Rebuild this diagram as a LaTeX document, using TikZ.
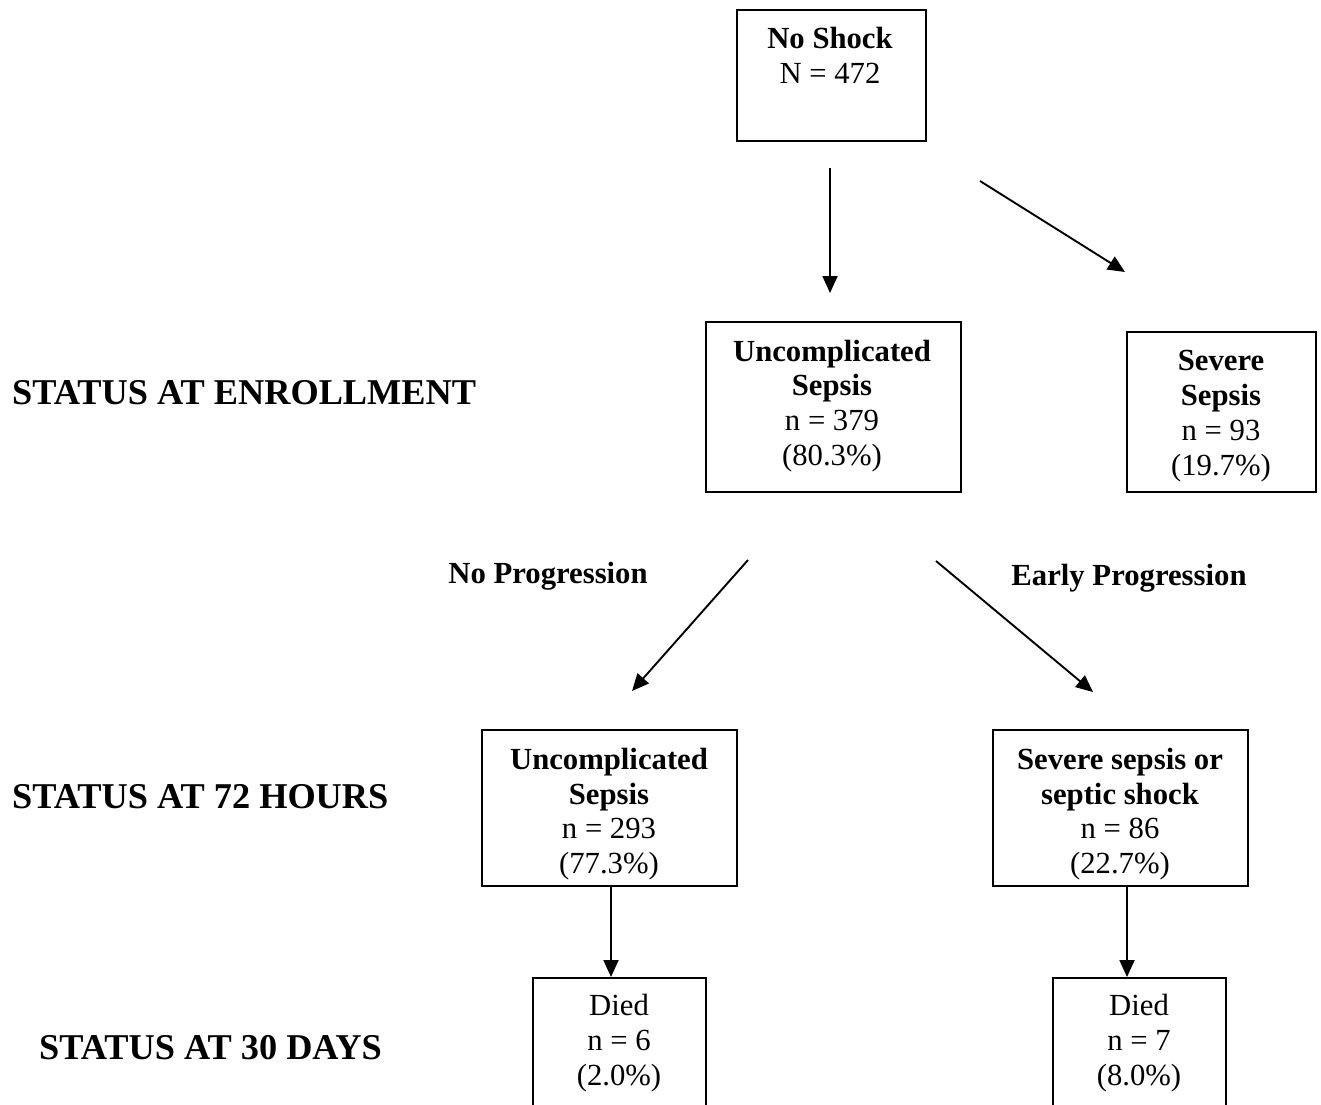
\documentclass[tikz,border=0pt]{standalone}
\usepackage{fontspec}
\setmainfont{Liberation Serif}
\usetikzlibrary{arrows.meta}
\begin{document}
\begin{tikzpicture}[x=1pt,y=-1pt,
  box/.style={draw, line width=1.6pt, inner sep=0pt, anchor=north west},
  txt/.style={align=center, font=\fontsize{30.7}{34.8}\selectfont, inner sep=0pt},
  lbl/.style={inner sep=0pt, font=\fontsize{30.7}{34.8}\selectfont\bfseries},
  hdr/.style={anchor=west, font=\fontsize{36.3}{40}\selectfont\bfseries, inner sep=0pt},
  arr/.style={line width=1.9pt, -{Triangle[length=17pt,width=15pt]}}]
\useasboundingbox (0,0) rectangle (1321,1104);
\fill[white] (0,0) rectangle (1321,1104);

% boxes
\node[box, minimum width=189pt, minimum height=131pt] (b0) at (736,9) {};
\node[box, minimum width=255pt, minimum height=170pt] (b1) at (705,321) {};
\node[box, minimum width=189pt, minimum height=160pt] (b2) at (1126,331) {};
\node[box, minimum width=255pt, minimum height=156pt] (b3) at (481,729) {};
\node[box, minimum width=255pt, minimum height=156pt] (b4) at (992,729) {};
\node[box, minimum width=173pt, minimum height=160pt] (b5) at (532,977) {};
\node[box, minimum width=173pt, minimum height=160pt] (b6) at (1052,977) {};

% texts
\node[txt] (t0) at (830,55) {\textbf{No Shock}\\N = 472};
\node[txt] (t1) at (832,406) {\textbf{Uncomplicated}\\\textbf{Sepsis}\\n = 379\\(80.3\%)};
\node[txt] (t2) at (1221,416) {\textbf{Severe}\\\textbf{Sepsis}\\n = 93\\(19.7\%)};
\node[txt] (t3) at (609,814) {\textbf{Uncomplicated}\\\textbf{Sepsis}\\n = 293\\(77.3\%)};
\node[txt] (t4) at (1120,814) {\textbf{Severe sepsis or}\\\textbf{septic shock}\\n = 86\\(22.7\%)};
\node[txt] (t5) at (619,1043) {Died\\n = 6\\(2.0\%)};
\node[txt] (t6) at (1139,1043) {Died\\n = 7\\(8.0\%)};

% labels
\node[lbl] (l1) at (548,576) {No Progression};
\node[lbl] (l2) at (1129,578) {Early Progression};
\node[hdr] (h1) at (12,393) {STATUS AT ENROLLMENT};
\node[hdr] (h2) at (12,797) {STATUS AT 72 HOURS};
\node[hdr] (h3) at (39,1048) {STATUS AT 30 DAYS};

% arrow endpoints
\coordinate (a1s) at (830,168); \coordinate (a1e) at (830,293);
\coordinate (a2s) at (980,181); \coordinate (a2e) at (1125,272);
\coordinate (a3s) at (748,560); \coordinate (a3e) at (632,691);
\coordinate (a4s) at (936,561); \coordinate (a4e) at (1093,692);
\coordinate (a5s) at (b3.south -| 611,0); \coordinate (a5e) at (b5.north -| 611,0);
\coordinate (a6s) at (b4.south -| 1127,0); \coordinate (a6e) at (b6.north -| 1127,0);

\draw[arr] (a1s) -- (a1e);
\draw[arr] (a2s) -- (a2e);
\draw[arr] (a3s) -- (a3e);
\draw[arr] (a4s) -- (a4e);
\draw[arr] (a5s) -- (a5e);
\draw[arr] (a6s) -- (a6e);
\end{tikzpicture}
\end{document}
